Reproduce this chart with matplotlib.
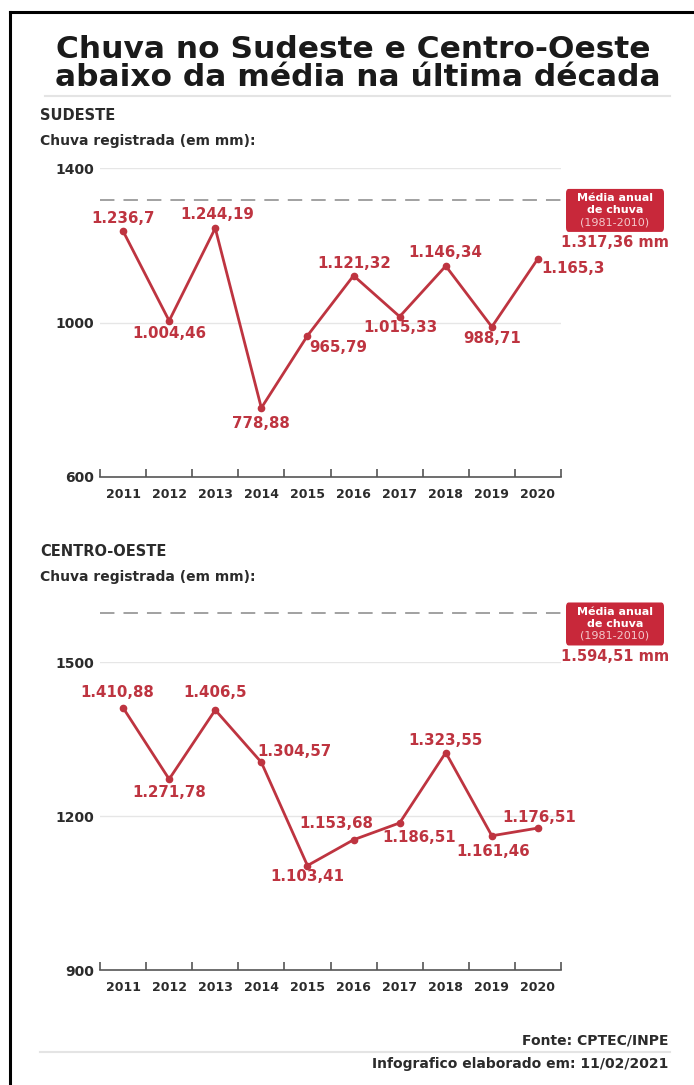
import numpy as np
import matplotlib.pyplot as plt
from matplotlib.patches import FancyBboxPatch
from matplotlib.lines import Line2D

# data
years = ['2011', '2012', '2013', '2014', '2015', '2016', '2017', '2018', '2019', '2020']
sudeste = [1236.7, 1004.46, 1244.19, 778.88, 965.79, 1121.32, 1015.33, 1146.34, 988.71, 1165.3]
sudeste_labels = ['1.236,7', '1.004,46', '1.244,19', '778,88', '965,79',
                  '1.121,32', '1.015,33', '1.146,34', '988,71', '1.165,3']
centro = [1410.88, 1271.78, 1406.5, 1304.57, 1103.41, 1153.68, 1186.51, 1323.55, 1161.46, 1176.51]
centro_labels = ['1.410,88', '1.271,78', '1.406,5', '1.304,57', '1.103,41',
                 '1.153,68', '1.186,51', '1.323,55', '1.161,46', '1.176,51']
media_sudeste = 1317.36
media_centro = 1594.51
sudeste_ticks = [600, 1000, 1400]
centro_ticks = [900, 1200, 1500]

RED = '#be3440'
DARK = '#2b2b2b'
W, H = 694, 1085

# label offsets in pixels (dx, dy up)
sud_off = [(0, 13), (0, -13), (2, 14), (0, -16), (31, -12), (1, 12), (1, -11), (0, 13), (0, -12), (35, -10)]
cen_off = [(-6, 15), (0, -13), (0, 17), (33, 11), (0, -11), (-17, 16), (19, -15), (0, 12), (1, -16), (1, 11)]


def fx(px):
    return px / W


def fy(py):
    return 1 - py / H


def draw_panel(fig, top, bottom, values, labels, offsets, ticks, media, media_label):
    ax = fig.add_axes([fx(100), fy(bottom), fx(561) - fx(100), fy(top) - fy(bottom)])
    x = np.arange(len(values))
    ax.plot(x, values, color=RED, lw=2.0, marker='o', ms=4.5, zorder=3)
    for xi, v, lab, (dx, dy) in zip(x, values, labels, offsets):
        ax.annotate(lab, (xi, v), xytext=(dx * 0.72, dy * 0.72), textcoords='offset points',
                    ha='center', va='center', color=RED, fontsize=10.8, fontweight='bold')
    ax.set_xlim(-0.5, len(values) - 0.5)
    ax.set_ylim(ticks[0], ticks[-1])
    for s in ['top', 'right', 'left']:
        ax.spines[s].set_visible(False)
    ax.spines['bottom'].set_color('#555555')
    ax.spines['bottom'].set_linewidth(1.2)
    ax.set_yticks(ticks)
    ax.set_yticklabels([str(t) for t in ticks], fontsize=10, fontweight='bold', color=DARK)
    ax.tick_params(axis='y', length=0, pad=4)
    ax.set_xticks(np.arange(-0.5, len(values), 1.0))
    ax.set_xticklabels([])
    ax.set_xticks(x, minor=True)
    ax.set_xticklabels(years, minor=True, fontsize=9, fontweight='bold', color=DARK)
    ax.tick_params(axis='x', which='major', direction='in', length=6, color='#555555', width=1.2)
    ax.tick_params(axis='x', which='minor', length=0, pad=8)
    for t in ticks[1:]:
        ax.axhline(t, color='#e6e6e6', lw=1, zorder=0)
    ax.axhline(media, xmin=0, xmax=1.01, color='#9a9a9a', lw=1.3, ls=(0, (8, 5)),
               clip_on=False, zorder=1)
    ym = fy(bottom) + (media - ticks[0]) / (ticks[-1] - ticks[0]) * (fy(top) - fy(bottom))
    # box from ~11 px above the line to ~32 px below it
    box = FancyBboxPatch((fx(566), ym - 32 / H), fx(664) - fx(566), 43 / H,
                         boxstyle='round,pad=0,rounding_size=0.004', transform=fig.transFigure,
                         fc='#c8283a', ec='none')
    fig.patches.append(box)
    yc = ym - 10.5 / H
    fig.text(fx(615), yc + 12 / H, 'Média anual', color='white', fontsize=8,
             fontweight='bold', ha='center', va='center')
    fig.text(fx(615), yc, 'de chuva', color='white', fontsize=8,
             fontweight='bold', ha='center', va='center')
    fig.text(fx(615), yc - 12 / H, '(1981-2010)', color='#f3c9cc', fontsize=8,
             ha='center', va='center')
    fig.text(fx(615), ym - 43 / H, media_label, color=RED, fontsize=10.5,
             fontweight='bold', ha='center', va='center')
    return ax


fig = plt.figure(figsize=(W / 100, H / 100), dpi=100)

# frame
fig.add_artist(Line2D([fx(10), fx(10)], [0, fy(12)], color='black', lw=2.2))
fig.add_artist(Line2D([fx(10), 1], [fy(12), fy(12)], color='black', lw=2.2))

fig.text(fx(353), fy(50), 'Chuva no Sudeste e Centro-Oeste', ha='center', va='center',
         fontsize=22.5, fontweight='heavy', color='#1a1a1a')
fig.text(fx(358), fy(77), 'abaixo da média na última década', ha='center', va='center',
         fontsize=22.5, fontweight='heavy', color='#1a1a1a')
fig.add_artist(Line2D([fx(45), fx(670)], [fy(96), fy(96)], color='#e4e4e4', lw=1.5))

fig.text(fx(40), fy(116), 'SUDESTE', fontsize=10.5, fontweight='bold', color=DARK, va='center')
fig.text(fx(40), fy(141), 'Chuva registrada (em mm):', fontsize=10, fontweight='bold',
         color=DARK, va='center')
draw_panel(fig, 168, 477, sudeste, sudeste_labels, sud_off, sudeste_ticks,
           media_sudeste, '1.317,36 mm')

fig.text(fx(40), fy(551), 'CENTRO-OESTE', fontsize=10.5, fontweight='bold', color=DARK, va='center')
fig.text(fx(40), fy(577), 'Chuva registrada (em mm):', fontsize=10, fontweight='bold',
         color=DARK, va='center')
draw_panel(fig, 662, 970, centro, centro_labels, cen_off, centro_ticks,
           media_centro, '1.594,51 mm')

fig.text(fx(668), fy(1040), 'Fonte: CPTEC/INPE', ha='right', va='center', fontsize=10,
         fontweight='bold', color=DARK)
fig.add_artist(Line2D([fx(40), fx(670)], [fy(1052), fy(1052)], color='#e4e4e4', lw=1.5))
fig.text(fx(668), fy(1064), 'Infografico elaborado em: 11/02/2021', ha='right', va='center',
         fontsize=10, fontweight='bold', color=DARK)

fig.savefig('out.png', dpi=100)
